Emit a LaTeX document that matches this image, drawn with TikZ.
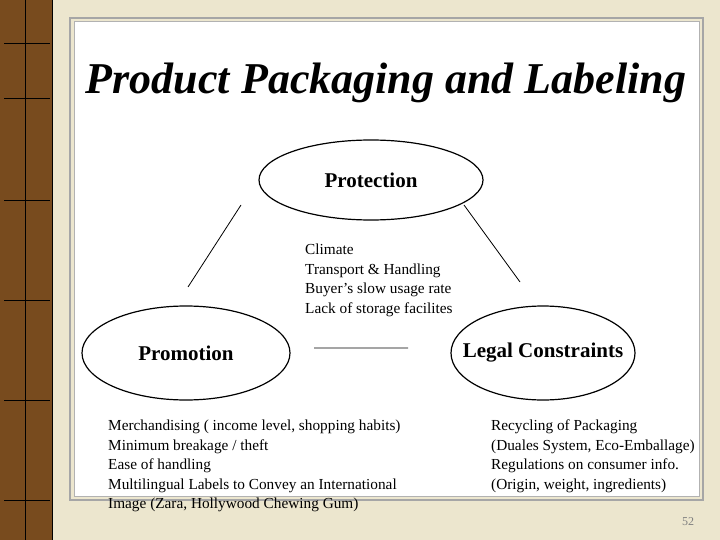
\documentclass[tikz,border=0pt]{standalone}
\usepackage{fontspec}
\setmainfont{Liberation Serif}
\begin{document}
\begin{tikzpicture}[x=1pt,y=-1pt,
  lab/.style={font=\fontsize{21}{24}\selectfont\bfseries},
  lst/.style={align=left,anchor=north west,inner sep=0pt,font=\fontsize{15.3}{19.4}\selectfont}]
\useasboundingbox (0,0) rectangle (720,540);
\fill[fill={rgb,255:red,236;green,230;blue,206}] (0,0) rectangle (720,540);
\fill[fill={rgb,255:red,120;green,75;blue,30}] (0,0) rectangle (52,540);
\draw[black,thick] (52,0)--(52,540) (25,0)--(25,540);
\foreach \y in {43,98,200,300,400,500} \draw[black] (4,\y)--(50,\y);
\draw[gray!70,line width=2pt] (70,18) rectangle (703,500);
\fill[white,draw=gray!60,line width=1pt] (74,22) rectangle (699,496);
\node (title) at (386,83) {\fontsize{44}{48}\selectfont\bfseries\itshape Product Packaging and Labeling};
\draw[line width=1.2pt] (371,180) ellipse (112 and 40);
\draw[line width=1.2pt] (186,353) ellipse (104 and 47);
\draw[line width=1.2pt] (543,353) ellipse (92 and 47);
\node[lab] (prot) at (371,180) {Protection};
\node[lab] (prom) at (186,353) {Promotion};
\node[lab] (legal) at (543,353) {Legal Constraints};
\coordinate (a1) at (241,205); \coordinate (a2) at (188,287);
\coordinate (b1) at (464,205); \coordinate (b2) at (520,282);
\coordinate (c1) at (314,348); \coordinate (c2) at (408,348);
\draw[line width=0.8pt] (a1)--(a2) (b1)--(b2) (c1)--(c2);
\node[lst] (clim) at (305,244) {Climate\\Transport \& Handling\\Buyer's slow usage rate\\Lack of storage facilites};
\node[lst] (merch) at (108,420) {Merchandising ( income level, shopping habits)\\Minimum breakage / theft\\Ease of handling\\Multilingual Labels to Convey an International\\Image (Zara, Hollywood Chewing Gum)};
\node[lst] (rec) at (491,420) {Recycling of Packaging\\(Duales System, Eco-Emballage)\\Regulations on consumer info.\\(Origin, weight, ingredients)};
\node[text=gray,font=\fontsize{12}{13}\selectfont] (pg) at (688,522) {52};
\end{tikzpicture}
\end{document}
